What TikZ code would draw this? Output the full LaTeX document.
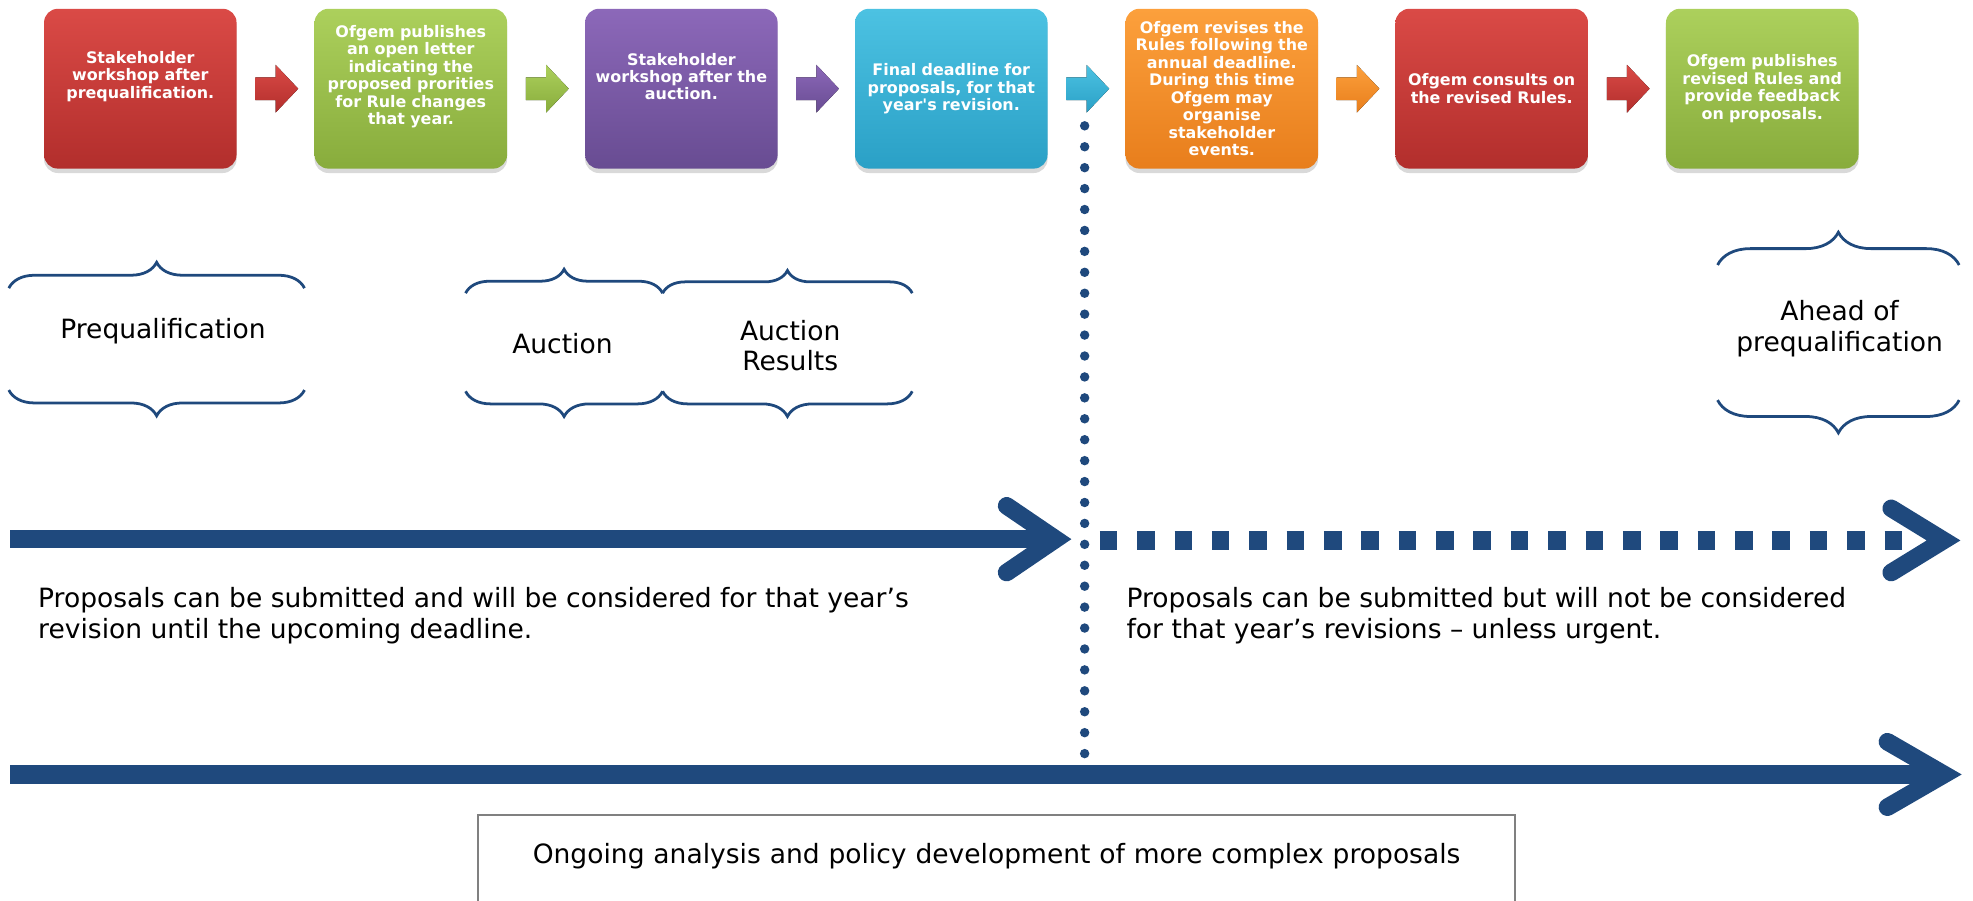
\documentclass[tikz,border=0pt]{standalone}
\usepackage{fontspec}
\setmainfont{DejaVu Sans}
\usetikzlibrary{calc,shadows,decorations.pathreplacing}

\definecolor{timeblue}{RGB}{31,73,125}
\definecolor{redhi}{RGB}{218,74,70}
\definecolor{redlo}{RGB}{178,46,44}
\definecolor{greenhi}{RGB}{172,208,92}
\definecolor{greenlo}{RGB}{136,172,60}
\definecolor{purplehi}{RGB}{140,104,185}
\definecolor{purplelo}{RGB}{104,76,146}
\definecolor{cyanhi}{RGB}{76,194,226}
\definecolor{cyanlo}{RGB}{42,160,198}
\definecolor{orangehi}{RGB}{252,160,60}
\definecolor{orangelo}{RGB}{232,126,28}

\tikzset{
	stage/.style={rectangle, rounded corners=2.2mm, minimum width=30.6mm, minimum height=25.4mm,
		text width=30mm, align=center, inner sep=0pt, text=white,
		font=\fontsize{7.2}{7.9}\selectfont\bfseries,
		drop shadow={shadow xshift=0mm, shadow yshift=-0.7mm, opacity=0.3}},
	stage red/.style={stage, top color=redhi, bottom color=redlo},
	stage green/.style={stage, top color=greenhi, bottom color=greenlo},
	stage purple/.style={stage, top color=purplehi, bottom color=purplelo},
	stage cyan/.style={stage, top color=cyanhi, bottom color=cyanlo},
	stage orange/.style={stage, top color=orangehi, bottom color=orangelo},
	lifted/.style={execute at end node={\par\vspace*{#1}}},
	note/.style={align=left, inner sep=0pt, anchor=west, font=\fontsize{12}{13.9}\selectfont},
	phase/.style={align=center, inner sep=0pt, font=\fontsize{12}{13.9}\selectfont},
	ongoingbox/.style={draw=gray, line width=0.35mm, minimum width=164.8mm, minimum height=15.2mm,
		text width=160mm, align=center, inner sep=0pt, font=\fontsize{12}{13.9}\selectfont},
	timeline/.style={timeblue, line width=2.9mm},
	chevron/.style={timeblue, line width=2.8mm, line cap=round, line join=miter},
	phasebrace/.style={timeblue, line width=0.44mm, decorate, decoration={brace, amplitude=#1}}
}

\begin{document}
\begin{tikzpicture}[x=0.2mm, y=-0.2mm]
	\useasboundingbox (0,0) rectangle (1568,716);

	% process steps
	\node[stage red, lifted=11pt]		(b1) at (111.5,70.5)	{Stakeholder\\workshop after\\prequalification.};
	\node[stage green, lifted=11pt]		(b2) at (326.5,70.5)	{Ofgem publishes\\an open letter\\indicating the\\proposed prorities\\for Rule changes\\that year.};
	\node[stage purple, lifted=11pt]	(b3) at (541.5,70.5)	{Stakeholder\\workshop after the\\auction.};
	\node[stage cyan]					(b4) at (756,70.5)		{Final deadline for\\proposals, for that\\year\textquotesingle s revision.};
	\node[stage orange]					(b5) at (971,70.5)		{Ofgem revises the\\Rules following the\\annual deadline.\\During this time\\Ofgem may\\organise\\stakeholder\\events.};
	\node[stage red]					(b6) at (1185.5,70.5)	{Ofgem consults on\\the revised Rules.};
	\node[stage green]					(b7) at (1400.5,70.5)	{Ofgem publishes\\revised Rules and\\provide feedback\\on proposals.};

	% arrows between steps
	\foreach \from/\to/\col in {b1/b2/red, b2/b3/green, b3/b4/purple, b4/b5/cyan, b5/b6/orange, b6/b7/red}
		\fill[top color=\col hi, bottom color=\col lo, shift={($(\from.east)!0.5!(\to.west)$)}]
			(-16,-9) -- (0,-9) -- (0,-19) -- (18,0) -- (0,19) -- (0,9) -- (-16,9) -- cycle;

	% annual deadline
	\coordinate (dtop) at (862,100);
	\coordinate (dbot) at (862,599);
	\draw[timeblue, line width=1.5mm, line cap=round, dash pattern=on 0pt off 3.326mm] (dtop) -- (dbot);

	% phases
	\node[phase]	(prequal)	at (129.5,263.6)	{Prequalification};
	\node[phase]	(auction)	at (447,273.4)		{Auction};
	\node[phase]	(results)	at (628,274.7)		{Auction\\Results};
	\node[phase]	(ahead)		at (1462,261)		{Ahead of\\prequalification};

	\draw[phasebrace=4.1mm]	(7,229) -- (242,229);
	\draw[phasebrace=4.1mm]	(242,310) -- (7,310);
	\draw[phasebrace=3.8mm]	(370,233) -- (526.6,233);
	\draw[phasebrace=4mm]	(526.6,311) -- (370,311);
	\draw[phasebrace=3.6mm]	(526.6,233) -- (725,233);
	\draw[phasebrace=4mm]	(725,311) -- (526.6,311);
	\draw[phasebrace=5.2mm]	(1365,210.6) -- (1557,210.6);
	\draw[phasebrace=5.2mm]	(1557,318) -- (1365,318);

	% submissions before and after the deadline
	\coordinate (s1) at (8,428.5);
	\coordinate (e1) at (839,428.5);
	\draw[timeline]	(s1) -- (e1);
	\draw[chevron]	($(e1)+(-39,-26.5)$) -- (e1) -- ($(e1)+(-39,26.5)$);

	\coordinate (s2) at (874,429.5);
	\coordinate (e2) at (1544.6,429.5);
	\draw[timeline, dash pattern=on 2.8mm off 3.14mm]	(s2) -- (1512,429.5);
	\draw[chevron]	($(e2)+(-41.6,-25.5)$) -- (e2) -- ($(e2)+(-41.6,25.5)$);

	\node[note]	(before)	at (30,489.5)	{Proposals can be submitted and will be considered for that year’s\\revision until the upcoming deadline.};
	\node[note]	(after)		at (895,489.5)	{Proposals can be submitted but will not be considered\\for that year’s revisions – unless urgent.};

	% ongoing work
	\coordinate (s3) at (8,615.5);
	\coordinate (e3) at (1545,615.5);
	\draw[timeline]	(s3) -- (e3);
	\draw[chevron]	($(e3)+(-45,-26)$) -- (e3) -- ($(e3)+(-45,26)$);

	\node[ongoingbox, lifted=6pt]	(ongoing)	at (792,686)	{Ongoing analysis and policy development of more complex proposals};
\end{tikzpicture}
\end{document}
